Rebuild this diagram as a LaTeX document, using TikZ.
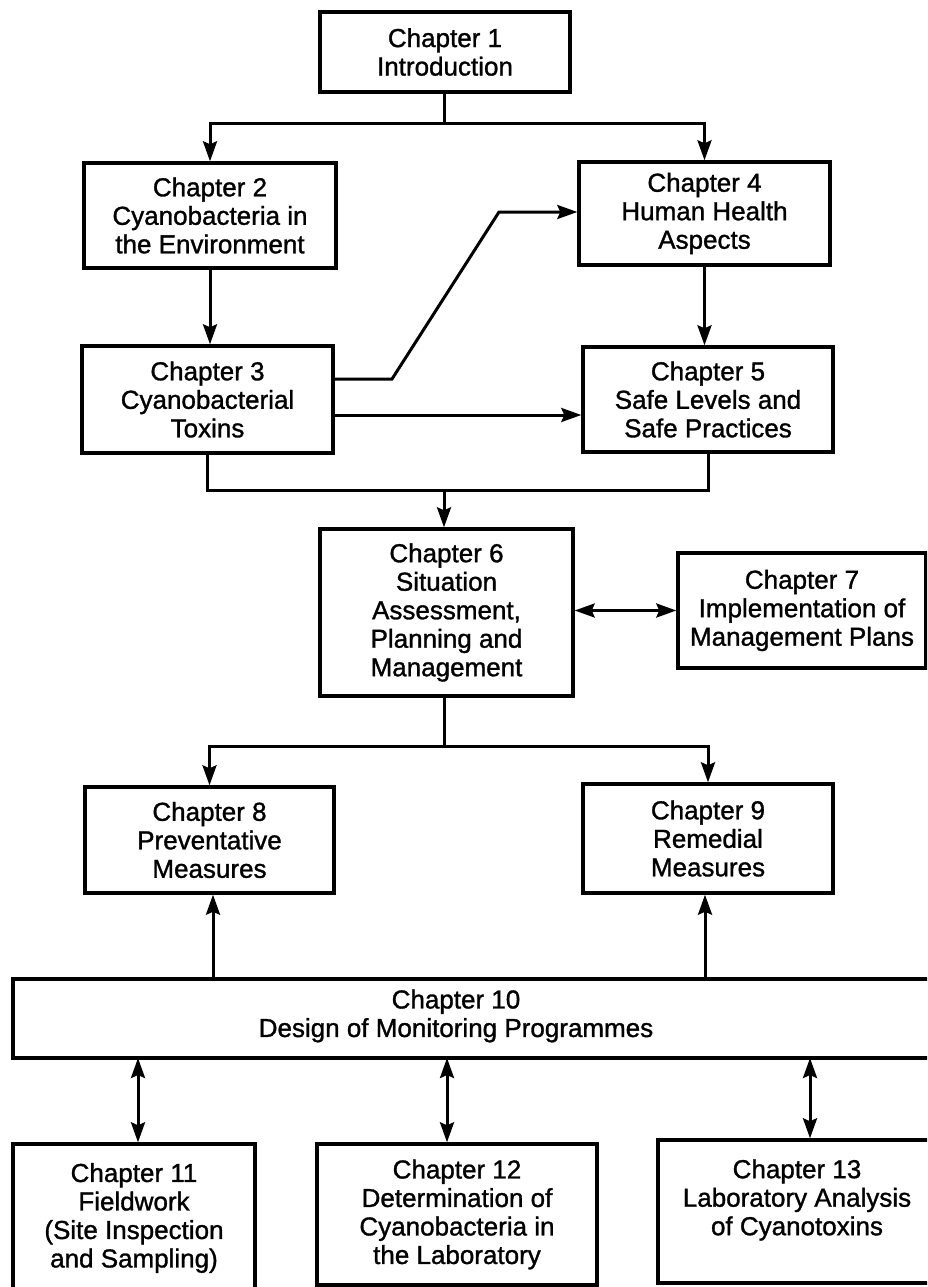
\documentclass[tikz,border=0pt]{standalone}
\usepackage{fontspec}
\setmainfont{Liberation Sans}[FakeBold=1.2]
\usetikzlibrary{arrows.meta}
\begin{document}
\begin{tikzpicture}[x=1pt,y=-1pt,
  box/.style={draw, line width=3.4pt, align=center, inner sep=0pt,
    font=\fontsize{26}{28.5}\selectfont},
  conn/.style={line width=3pt, line join=miter},
  tip/.tip={Stealth[length=20pt,width=14pt,inset=3pt]},
  arr/.style={conn, -tip},
  darr/.style={conn, tip-tip}]
\useasboundingbox (0,0) rectangle (927,1287);
\clip (0,0) rectangle (927,1287);
\fill[white] (0,0) rectangle (927,1287);

% boxes
\node[box, minimum width=250pt, minimum height=80pt] (ch1) at (445,52) {Chapter 1\\Introduction};
\node[box, minimum width=252pt, minimum height=105pt] (ch2) at (210,215.5) {Chapter 2\\Cyanobacteria in\\the Environment};
\node[box, minimum width=251pt, minimum height=103pt] (ch4) at (704.5,213.5) {Chapter 4\\Human Health\\Aspects};
\node[box, minimum width=251pt, minimum height=107pt] (ch3) at (207.5,399.5) {Chapter 3\\Cyanobacterial\\Toxins};
\node[box, minimum width=250pt, minimum height=105pt] (ch5) at (708,399.5) {Chapter 5\\Safe Levels and\\Safe Practices};
\node[box, minimum width=253pt, minimum height=167pt] (ch6) at (446.5,612.5) {Chapter 6\\Situation\\Assessment,\\Planning and\\Management};
\node[box, minimum width=248pt, minimum height=115pt] (ch7) at (802,610.5) {Chapter 7\\Implementation of\\Management Plans};
\node[box, minimum width=249pt, minimum height=106pt] (ch8) at (209.5,840) {Chapter 8\\Preventative\\Measures};
\node[box, minimum width=250pt, minimum height=109pt] (ch9) at (708,838.5) {Chapter 9\\Remedial\\Measures};
\node[box, minimum width=947pt, minimum height=79pt] (ch10) at (486.5,1018.5) {};
\node[box, draw=none] (ch10t) at (456,1016) {Chapter 10\\Design of Monitoring Programmes};
\node[box, minimum width=242pt, minimum height=148pt] (ch11) at (134,1218) {Chapter 11\\Fieldwork\\(Site Inspection\\and Sampling)};
\node[box, minimum width=280pt, minimum height=141pt] (ch12) at (457,1214.5) {Chapter 12\\Determination of\\Cyanobacteria in\\the Laboratory};
\node[box, minimum width=278pt, minimum height=143pt] (ch13) at (797,1211.5) {Chapter 13\\Laboratory Analysis\\of Cyanotoxins\\\mbox{}};

% Chapter 1 split
\coordinate (s1) at (444,124);
\draw[conn] (ch1.south -| s1) -- (s1);
\draw[arr] (s1) -| (ch2.north);
\draw[arr] (s1) -| (ch4.north);

% 2 -> 3, 4 -> 5
\draw[arr] (ch2.south) -- (ch2.south |- ch3.north);
\draw[arr] (ch4.south) -- (ch4.south |- ch5.north);

% 3 -> 4 (bent), 3 -> 5
\coordinate (b1) at (392,379);
\coordinate (b2) at (499,212);
\draw[arr] (ch3.east |- b1) -- (b1) -- (b2) -- (ch4.west |- b2);
\coordinate (h35) at (450,415);
\draw[arr] (ch3.east |- h35) -- (ch5.west |- h35);

% join 3 & 5 -> 6
\coordinate (j) at (444,490);
\draw[conn] (ch3.south) -- (ch3.south |- j) -- (ch5.south |- j) -- (ch5.south);
\draw[arr] (j) -- (j |- ch6.north);

% 6 <-> 7
\draw[darr] (ch7.west -| ch6.east) -- (ch7.west);

% 6 split -> 8, 9
\coordinate (s2) at (444,746);
\draw[conn] (ch6.south -| s2) -- (s2);
\draw[arr] (s2) -| (ch8.north);
\draw[arr] (s2) -| (ch9.north);

% 10 -> 8, 9
\coordinate (u8) at (213,979);
\coordinate (u9) at (705,979);
\draw[arr] (u8) -- (u8 |- ch8.south);
\draw[arr] (u9) -- (u9 |- ch9.south);

% 10 <-> 11, 12, 13
\coordinate (d11) at (138,1058);
\coordinate (d12) at (447,1058);
\coordinate (d13) at (810,1058);
\draw[darr] (d11) -- (d11 |- ch11.north);
\draw[darr] (d12) -- (d12 |- ch12.north);
\draw[darr] (d13) -- (d13 |- ch13.north);
\end{tikzpicture}
\end{document}
